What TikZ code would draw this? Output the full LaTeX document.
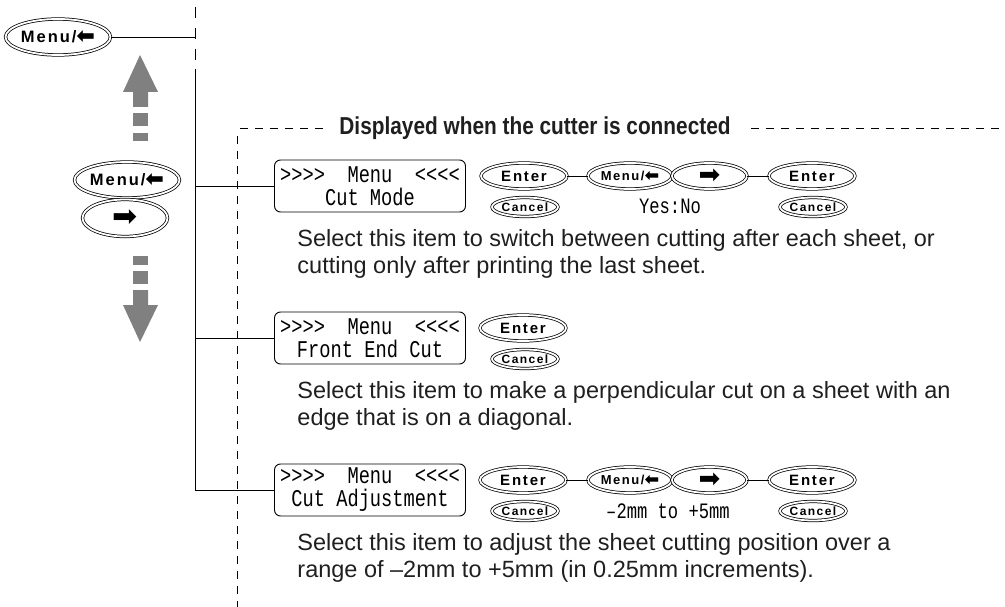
\documentclass[tikz,border=0pt]{standalone}
\usepackage{fontspec}
\usepackage{graphicx}
\setmainfont{Liberation Sans}
\newfontfamily\lcdfont[FakeStretch=0.78]{Liberation Mono}
\newfontfamily\keyfont[LetterSpace=12]{Liberation Sans}
\newfontfamily\titlefont[FakeStretch=0.85]{Liberation Sans}
\newfontfamily\symfont{DejaVu Sans}
\usepackage{tikz}
\usetikzlibrary{shapes.geometric,positioning,calc}

\newcommand\rarrow{{\symfont ➡}}
\newcommand\larrow{\raisebox{-0.05em}{\symfont\scalebox{1.35}{⬅}}}

\begin{document}
\begin{tikzpicture}[x=1pt, y=-1pt, line width=0.9pt,
   keybtn/.style={ellipse, draw, double, double distance=1.8pt, line width=0.75pt,
                  inner sep=0pt},
   bigkey/.style={keybtn, minimum width=105pt, minimum height=36pt,
                  font=\keyfont\bfseries\fontsize{16.5}{16.5}\selectfont},
   smallkey/.style={keybtn, minimum width=84pt, minimum height=26pt,
                  font=\keyfont\bfseries\fontsize{13}{13}\selectfont},
   enterkey/.style={keybtn, minimum width=86pt, minimum height=26pt,
                  font=\keyfont\bfseries\fontsize{15}{15}\selectfont},
   cancelkey/.style={keybtn, minimum width=66pt, minimum height=19pt,
                  font=\keyfont\bfseries\fontsize{12}{12}\selectfont},
   lcd/.style={draw, rounded corners=6pt, minimum width=191pt, minimum height=52pt,
               inner sep=0pt, align=center, font=\lcdfont\fontsize{24}{23}\selectfont},
   lcdval/.style={inner sep=0pt, font=\lcdfont\fontsize{22}{22}\selectfont},
   note/.style={anchor=base west, align=left, inner sep=0pt, text=black!88,
                font=\fontsize{23.5}{26.5}\selectfont},
   titletext/.style={inner sep=0pt, text=black!88,
                font=\titlefont\bfseries\fontsize{24.5}{24.5}\selectfont},
   cutframe/.style={dash pattern=on 8pt off 7pt, line width=0.8pt},
   grayarrow/.style={fill=black!50}]
  \useasboundingbox (0,0) rectangle (1005,607);

  % menu key and scroll keys on the left
  \node[bigkey] (topmenu) at (58,37) {Menu/\larrow};
  \node[bigkey] (leftmenu) at (127,180) {Menu/\larrow};
  \node[bigkey, minimum width=85pt, minimum height=37pt,
        font=\fontsize{30}{30}\selectfont] (leftright) at (125,218) {\rarrow};
  \fill[grayarrow] (140,55) -- (158,92) -- (148,92) -- (148,107) -- (133,107)
     -- (133,92) -- (123,92) -- cycle;
  \fill[grayarrow] (133,113) rectangle (148,126);
  \fill[grayarrow] (133,133) rectangle (148,141);
  \fill[grayarrow] (133,256) rectangle (148,265);
  \fill[grayarrow] (133,271) rectangle (148,284);
  \fill[grayarrow] (133,290) -- (148,290) -- (148,305) -- (158,305) -- (140,342)
     -- (123,305) -- (133,305) -- cycle;

  % trunk
  \coordinate (trunktop) at (195,69);
  \draw[dash pattern=on 11pt off 10pt] (195,7) -- (195,62);
  \draw (topmenu.east) -- (topmenu.east -| trunktop);

  % cutter frame
  \node[titletext] (title) at (535,128) {Displayed when the cutter is connected};
  \draw[cutframe] (240,128) -- ([xshift=-12pt]title.west);
  \draw[cutframe] ([xshift=20pt]title.east) -- (1005,128);
  \draw[cutframe] (237,136) -- (237,607);

  % Cut Mode
  \node[lcd] (modebox) at (370,186) {{>}{>}{>}{>}\ \ Menu\ \ {<}{<}{<}{<}\\Cut Mode};
  \node[enterkey] (modeenter) at (524,176) {Enter};
  \node[cancelkey] (modecancel) at (525,207) {Cancel};
  \node[smallkey] (modemenu) at (630,176) {Menu/\larrow};
  \node[smallkey, minimum width=75pt, font=\fontsize{26}{26}\selectfont]
     (moderight) at (709.5,176) {\rarrow};
  \node[enterkey] (modeok) at (812,176) {Enter};
  \node[cancelkey] (modeesc) at (813,207) {Cancel};
  \node[lcdval] (modeval) at (670,206) {Yes:No};
  \draw (modeenter) -- (modemenu);
  \draw (moderight) -- (modeok);
  \node[note] (modenote) at (297,273)
     {Select this item to switch between cutting after each sheet, or\\
      cutting only after printing the last sheet.};

  % Front End Cut
  \node[lcd] (frontbox) at (370,338) {{>}{>}{>}{>}\ \ Menu\ \ {<}{<}{<}{<}\\Front End Cut};
  \node[enterkey] (frontenter) at (523,328) {Enter};
  \node[cancelkey] (frontcancel) at (525,359) {Cancel};
  \node[note] (frontnote) at (297,425)
     {Select this item to make a perpendicular cut on a sheet with an\\
      edge that is on a diagonal.};

  % Cut Adjustment
  \node[lcd] (adjbox) at (370,490) {{>}{>}{>}{>}\ \ Menu\ \ {<}{<}{<}{<}\\Cut Adjustment};
  \node[enterkey] (adjenter) at (523,480) {Enter};
  \node[cancelkey] (adjcancel) at (525,511) {Cancel};
  \node[smallkey] (adjmenu) at (630,480) {Menu/\larrow};
  \node[smallkey, minimum width=75pt, font=\fontsize{26}{26}\selectfont]
     (adjright) at (709.5,480) {\rarrow};
  \node[enterkey] (adjok) at (812,480) {Enter};
  \node[cancelkey] (adjesc) at (813,511) {Cancel};
  \node[lcdval] (adjval) at (668,511) {–2mm to +5mm};
  \draw (adjenter) -- (adjmenu);
  \draw (adjright) -- (adjok);
  \node[note] (adjnote) at (297,577)
     {Select this item to adjust the sheet cutting position over a\\
      range of –2mm to +5mm (in 0.25mm increments).};

  % branches
  \draw (trunktop) |- (adjbox.west);
  \draw (trunktop |- modebox.west) -- (modebox.west);
  \draw (trunktop |- frontbox.west) -- (frontbox.west);
\end{tikzpicture}
\end{document}
